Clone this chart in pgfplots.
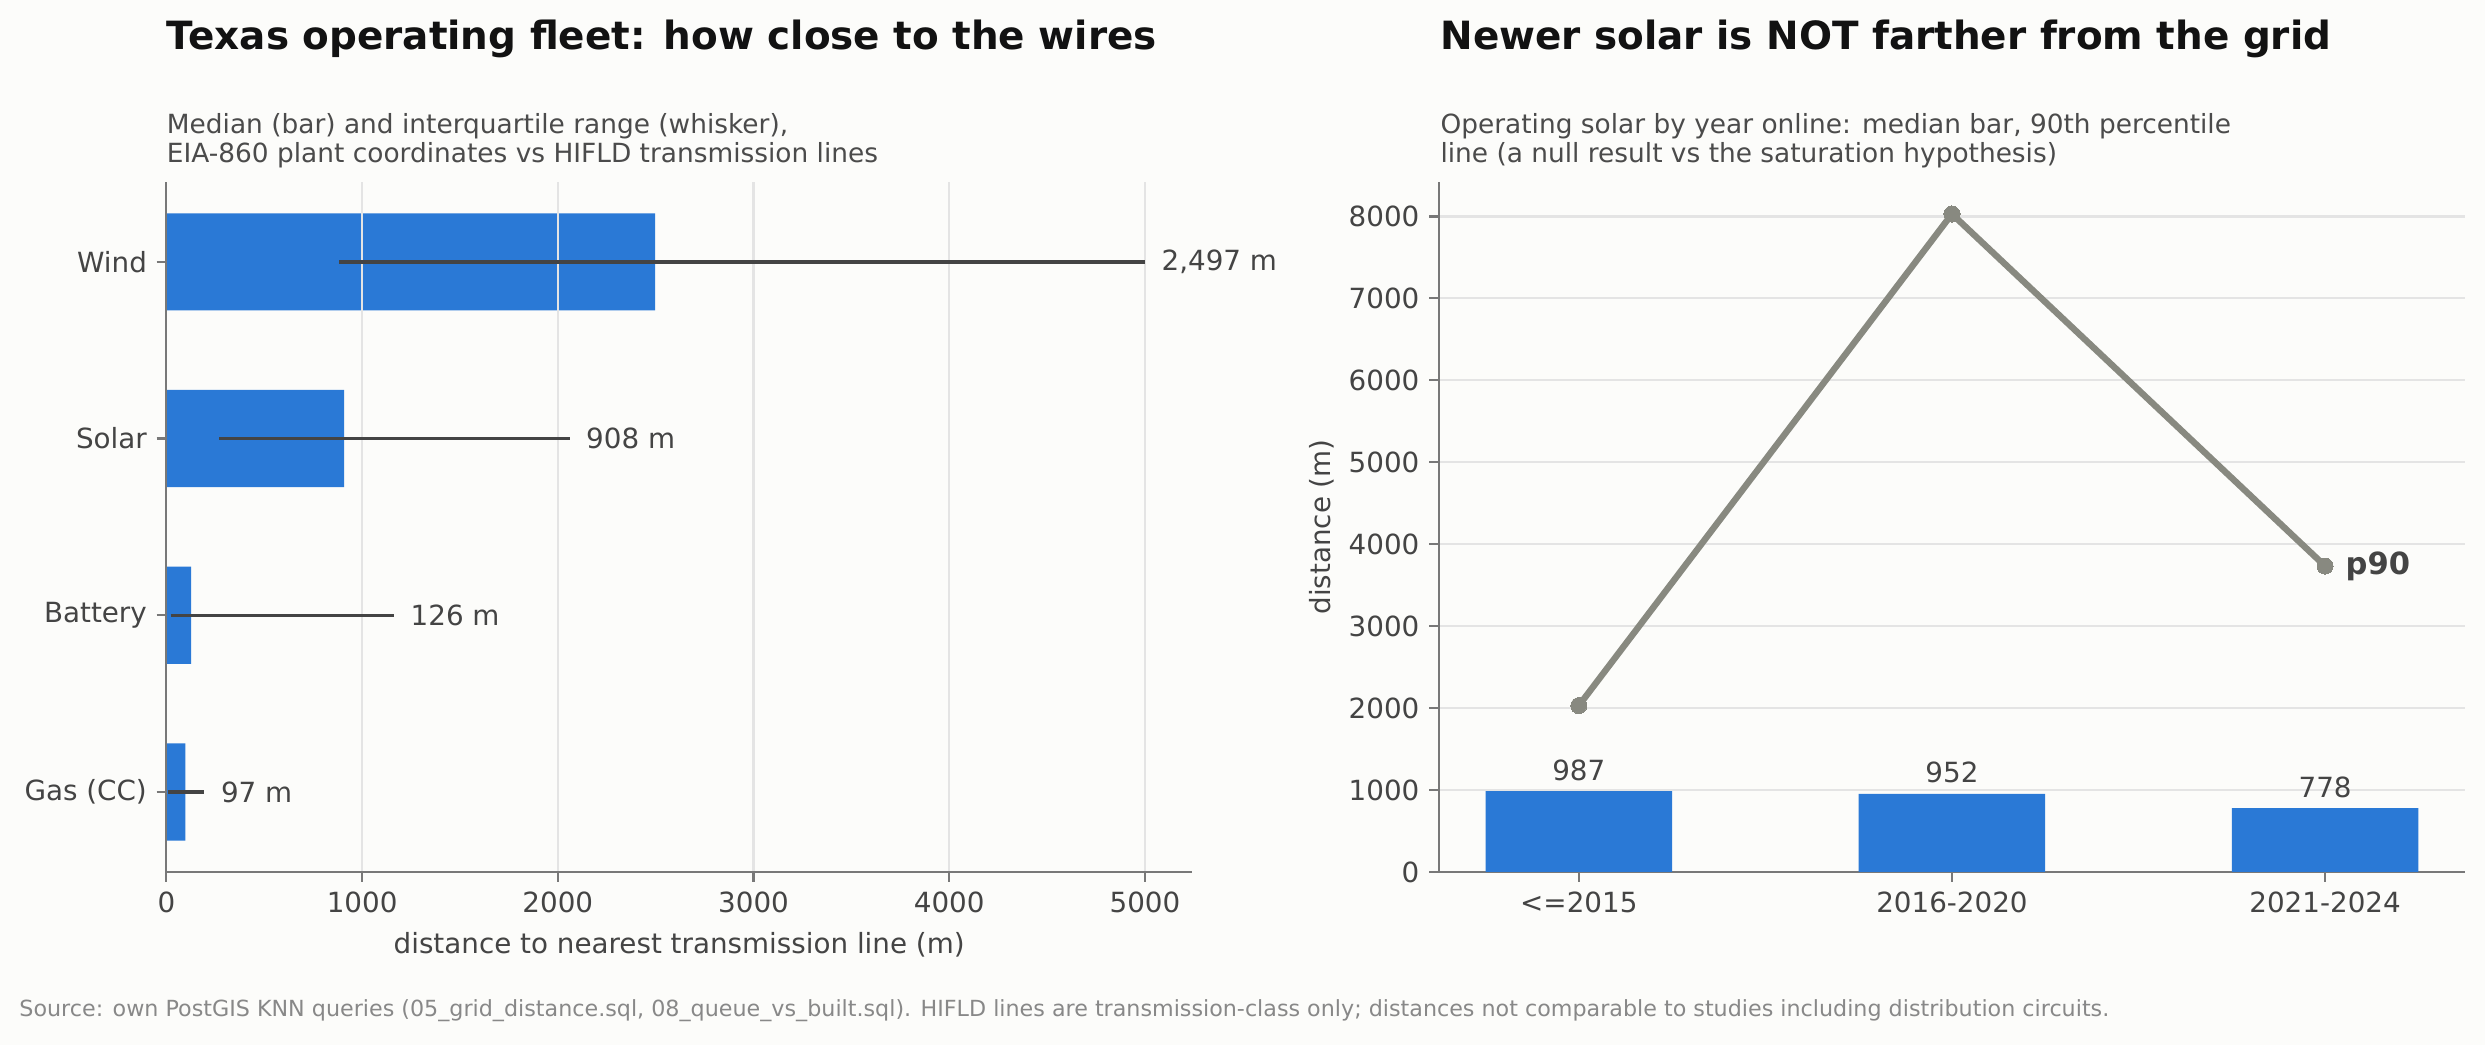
\documentclass[border=0pt]{standalone}
\usepackage{fontspec}
\setmainfont{DejaVu Sans}
\usepackage{pgfplots}
\pgfplotsset{compat=1.18}
\definecolor{bg}{RGB}{252,252,250}
\definecolor{barblue}{RGB}{42,121,214}
\definecolor{txt}{RGB}{68,68,68}
\definecolor{subt}{RGB}{75,75,75}
\definecolor{spine}{RGB}{120,120,120}
\definecolor{gridc}{RGB}{228,228,228}
\definecolor{linegray}{RGB}{136,137,128}
\definecolor{whisk}{RGB}{68,68,68}
\definecolor{foot}{RGB}{136,136,136}
\pgfplotsset{
  common/.style={
    scale only axis, anchor=south west,
    axis x line*=bottom, axis y line*=left,
    axis line style={spine, line width=0.8pt},
    tick style={spine, line width=0.8pt},
    major tick length=3.5pt, tick align=outside,
    ticklabel style={font=\fontsize{10}{12}\selectfont, text=txt},
    label style={font=\fontsize{10}{12}\selectfont, text=txt},
    /pgf/number format/assume math mode=true,
    /pgf/number format/1000 sep={},
    scaled ticks=false,
    grid style={gridc, line width=0.8pt},
  }
}
\begin{document}
\begin{tikzpicture}
\fill[bg] (0,0) rectangle (894.6pt,376.2pt);
\path[use as bounding box] (0,0) rectangle (894.6pt,376.2pt);

% ---------- left panel ----------
\begin{axis}[common,
  at={(59.9pt,62.3pt)}, width=369.2pt, height=248.4pt,
  xmin=0, xmax=5240, ymin=-0.4525, ymax=3.4525,
  xtick={0,1000,2000,3000,4000,5000},
  ytick={0,1,2,3}, yticklabels={Gas (CC),Battery,Solar,Wind},
  xmajorgrids, axis on top,
  xlabel={distance to nearest transmission line (m)},
  xlabel style={at={(axis description cs:0.5,-0.1059)}, anchor=center},
]
\addplot[xbar, bar shift=0pt, bar width=0.55, fill=barblue, draw=none]
  coordinates {(2497,3) (908,2) (126,1) (97,0)};
\end{axis}
\begin{axis}[scale only axis, anchor=south west, hide axis, clip=false,
  at={(59.9pt,62.3pt)}, width=369.2pt, height=248.4pt,
  xmin=0, xmax=5240, ymin=-0.4525, ymax=3.4525]
\addplot[whisk, line width=1.2pt] coordinates {(884,3) (5000,3)};
\addplot[whisk, line width=1.2pt] coordinates {(270,2) (2060,2)};
\addplot[whisk, line width=1.2pt] coordinates {(21,1) (1163,1)};
\addplot[whisk, line width=1.2pt] coordinates {(7,0) (194,0)};
\begin{scope}[every node/.style={anchor=west, inner sep=0pt, xshift=5.8pt, text=txt, font=\fontsize{10}{12}\selectfont}]
\node at (axis cs:5000,3) {2,497 m};
\node at (axis cs:2060,2) {908 m};
\node at (axis cs:1163,1) {126 m};
\node at (axis cs:194,0) {97 m};
\end{scope}
\end{axis}

% ---------- right panel ----------
\begin{axis}[common,
  at={(518pt,62.3pt)}, width=369.4pt, height=248.4pt,
  xmin=-0.375, xmax=2.375, ymin=0, ymax=8421,
  xtick={0,1,2}, xticklabels={<=2015,2016-2020,2021-2024},
  ytick={0,1000,2000,3000,4000,5000,6000,7000,8000},
  ymajorgrids,
  ylabel={distance (m)},
  ylabel style={at={(axis description cs:-0.114,0.5)}, anchor=center},
]
\addplot[ybar, bar shift=0pt, bar width=0.5, fill=barblue, draw=none,
  nodes near coords,
  nodes near coords style={anchor=south, inner sep=0pt, yshift=3.6pt, text=txt, font=\fontsize{10}{12}\selectfont}]
  coordinates {(0,987) (1,952) (2,778)};
\addplot[linegray, line width=2.3pt, mark=*, mark size=2.9pt,
  mark options={fill=linegray, draw=linegray, line width=0pt}]
  coordinates {(0,2030) (1,8030) (2,3733)};
\node[anchor=west, inner sep=0pt, xshift=7.2pt, text=txt, font=\fontsize{11}{13}\selectfont\bfseries] at (axis cs:2,3733) {p90};
\end{axis}

% ---------- titles ----------
\node[anchor=base west, inner sep=0pt, font=\fontsize{14}{17}\selectfont\bfseries, text=black!93] at (59.9pt,358.2pt) {Texas operating fleet: how close to the wires};
\node[anchor=base west, inner sep=0pt, font=\fontsize{9.5}{11}\selectfont, text=subt] at (59.9pt,328.2pt) {Median (bar) and interquartile range (whisker),};
\node[anchor=base west, inner sep=0pt, font=\fontsize{9.5}{11}\selectfont, text=subt] at (59.9pt,317.6pt) {EIA-860 plant coordinates vs HIFLD transmission lines};

\node[anchor=base west, inner sep=0pt, font=\fontsize{14}{17}\selectfont\bfseries, text=black!93] at (518.4pt,358.2pt) {Newer solar is NOT farther from the grid};
\node[anchor=base west, inner sep=0pt, font=\fontsize{9.5}{11}\selectfont, text=subt] at (518.4pt,328.2pt) {Operating solar by year online: median bar, 90th percentile};
\node[anchor=base west, inner sep=0pt, font=\fontsize{9.5}{11}\selectfont, text=subt] at (518.4pt,317.6pt) {line (a null result vs the saturation hypothesis)};

\node[anchor=base west, inner sep=0pt, font=\fontsize{8}{10}\selectfont, text=foot] at (6.8pt,10.1pt) {Source: own PostGIS KNN queries (05\_grid\_distance.sql, 08\_queue\_vs\_built.sql). HIFLD lines are transmission-class only; distances not comparable to studies including distribution circuits.};
\end{tikzpicture}
\end{document}
